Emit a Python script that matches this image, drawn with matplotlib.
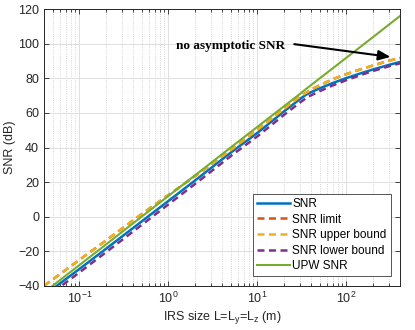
import numpy as np
import matplotlib
matplotlib.use('Agg')
import matplotlib.pyplot as plt
from matplotlib.ticker import LogLocator, NullFormatter

plt.rcParams['font.family'] = ['Liberation Sans', 'DejaVu Sans']
plt.rcParams['mathtext.default'] = 'regular'

# IRS side length (m)
L = [0.04, 0.05, 0.1, 0.2, 0.5, 1, 2, 5, 10, 20, 30, 35, 40, 50, 70, 100, 150, 200, 300, 400]

snr = [-45.5, -41.8, -30.3, -18.5, -2.8, 9.1, 21.0, 37.0, 48.5, 61.0, 68.0, 70.5, 72.0,
       74.2, 77.3, 80.2, 83.2, 85.2, 87.8, 89.5]
snr_upper = [-40.0, -36.4, -25.0, -13.7, 1.5, 12.5, 23.5, 38.5, 50.3, 62.5, 69.5, 71.6, 73.5,
             76.0, 79.5, 82.5, 85.5, 87.5, 90.2, 91.8]
snr_limit = list(snr_upper)
snr_lower = [-47.5, -43.8, -32.3, -20.5, -4.8, 7.1, 19.0, 35.0, 46.5, 59.0, 66.0, 68.5, 70.2,
             72.6, 75.9, 79.0, 82.2, 84.3, 87.0, 88.7]
snr_upw = [-43.9, -40.0, -28.0, -16.0, 0.0, 12.0, 24.0, 40.0, 52.0, 64.0, 71.0, 73.8, 76.1,
           80.0, 85.8, 92.0, 99.0, 104.0, 111.1, 116.1]

blue = '#0072BD'
orange = '#D95319'
yellow = '#EDB120'
purple = '#7E2F8E'
green = '#77AC30'

fig = plt.figure(figsize=(4.15, 3.3), dpi=100)
ax = fig.add_axes([0.106, 0.134, 0.858, 0.838])

ax.plot(L, snr, color=blue, lw=1.8, label='SNR')
ax.plot(L, snr_limit, color=orange, lw=1.8, ls='--', dashes=(2.8, 1.8), label='SNR limit')
ax.plot(L, snr_upper, color=yellow, lw=1.8, ls='--', dashes=(2.8, 1.8), label='SNR upper bound')
ax.plot(L, snr_lower, color=purple, lw=1.8, ls='--', dashes=(2.8, 1.8), label='SNR lower bound')
ax.plot(L, snr_upw, color=green, lw=1.5, label='UPW SNR')

ax.set_xscale('log')
ax.set_xlim(0.04, 400)
ax.set_ylim(-40, 120)
ax.set_yticks(np.arange(-40, 121, 20))
ax.xaxis.set_minor_locator(LogLocator(base=10, subs=np.arange(2, 10), numticks=20))
ax.xaxis.set_minor_formatter(NullFormatter())

ax.grid(True, which='major', color='#e0e0e0', lw=0.7, ls='-')
ax.grid(True, which='minor', axis='x', color='#c8c8c8', lw=0.6, ls=':')
ax.set_axisbelow(True)

for s in ax.spines.values():
    s.set_color('#262626')
    s.set_linewidth(0.7)
ax.tick_params(which='both', direction='in', top=True, right=True, colors='#262626',
               labelsize=9, width=0.6)
ax.tick_params(which='major', length=3.5)
ax.tick_params(which='minor', length=2)

ax.set_xlabel('IRS size L=L$_y$=L$_z$ (m)', fontsize=9, color='#262626', labelpad=2)
ax.set_ylabel('SNR (dB)', fontsize=9, color='#262626', labelpad=1)

ax.text(4.97, 98.8, 'no asymptotic SNR', family=['Liberation Serif'], fontweight='bold',
        fontsize=9.5, ha='center', va='center')
ax.annotate('', xy=(312, 92.4), xytext=(25.9, 99.8),
            arrowprops=dict(arrowstyle='-|>,head_length=0.6,head_width=0.25',
                            color='k', lw=1.5, mutation_scale=12, shrinkA=0, shrinkB=0))

leg = ax.legend(loc='lower right', fontsize=8.5, handlelength=2.8, handletextpad=0.2,
                labelspacing=0.3, borderpad=0.35, fancybox=False, framealpha=1,
                edgecolor='#555555', borderaxespad=0.8)
leg.get_frame().set_linewidth(0.7)

fig.savefig('out.png', dpi=100)
